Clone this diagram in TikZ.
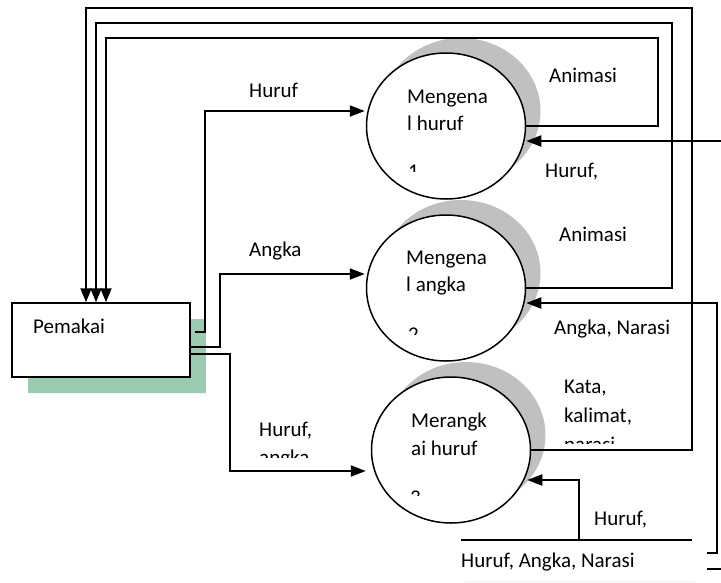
\documentclass[tikz,border=0pt]{standalone}
\usepackage{fontspec}
\setmainfont{Carlito}
\usetikzlibrary{arrows.meta,calc,shapes.geometric}
\definecolor{shadegreen}{RGB}{155,204,178}
\definecolor{shadegray}{RGB}{192,192,192}
\begin{document}
\begin{tikzpicture}[x=1pt,y=-1pt,
  flow/.style={line width=2pt},
  arr/.style={flow, -{Triangle[length=15pt,width=11pt]}},
  downarr/.style={flow, -{Triangle[length=14pt,width=11pt]}},
  lbl/.style={anchor=base west, inner sep=0pt, font=\fontsize{21}{28}\selectfont},
  proc/.style={ellipse, draw, line width=1.5pt, fill=white,
    minimum width=159pt, minimum height=146pt, inner sep=0pt},
  procshade/.style={ellipse, fill=shadegray,
    minimum width=159pt, minimum height=146pt, inner sep=0pt},
  entity/.style={rectangle, draw, line width=1.5pt, fill=white,
    minimum width=178pt, minimum height=74pt, inner sep=0pt},
  entityshade/.style={rectangle, fill=shadegreen,
    minimum width=178pt, minimum height=74pt, inner sep=0pt},
]
\useasboundingbox (0,0) rectangle (721,582);

% external entity
\node[entityshade] (pemshade) at (117,356) {};
\node[entity] (pem) at (101,340) {};
\node[lbl] (tpem) at (33,333) {Pemakai};

% processes with their shadows
\node[procshade] (c1s) at (461,111) {};
\node[proc] (c1) at (446,126) {};
\node[procshade] (c2s) at (461,273) {};
\node[proc] (c2) at (446,288) {};
\node[procshade] (c3s) at (466,435) {};
\node[proc] (c3) at (451,450) {};

\node[lbl] (t1a) at (407,103) {Mengena};
\node[lbl] (t1b) at (407,130) {l huruf};
\node[lbl] (t2a) at (406,264) {Mengena};
\node[lbl] (t2b) at (406,291) {l angka};
\node[lbl] (t3a) at (411,427) {Merangk};
\node[lbl] (t3b) at (411,455) {ai huruf};

% process numbers, cut off by the text frame
\begin{scope}
  \clip (400,150) rectangle (440,171);
  \node[lbl] (n1) at (408,178) {1};
\end{scope}
\begin{scope}
  \clip (400,310) rectangle (440,334);
  \node[lbl] (n2) at (408,341) {2};
\end{scope}
\begin{scope}
  \clip (400,475) rectangle (440,495);
  \node[lbl] (n3) at (410,504) {3};
\end{scope}

% flows from the user to the processes
\draw[arr] ($(pem.east)+(4,-8)$) -- ++(10,0) |- ($(c1.west)+(-1,-15)$);
\draw[arr] ($(pem.east)+(0,7)$) -- ++(29,0) |- ($(c2.west)+(-1,-14)$);
\draw[arr] ($(pem.east)+(0,14)$) -- ++(39,0) |- ($(c3.west)+(-5,21)$);

% flows back to the user
\draw[downarr] (c1.east) -- (658,126) |- (106,38) -- ($(pem.north)+(5,0)$);
\draw[downarr] (c2.east) -- (672,288) |- (96,23) -- ($(pem.north)+(-5,0)$);
\draw[downarr] (c3.east) -- (692,450) |- (86,8) -- ($(pem.north)+(-15,0)$);

% inputs from the right
\coordinate (inA) at (721,141);
\draw[arr] (inA) -- ($(c1.east)+(0,15)$);
\coordinate (inB) at (707,553);
\draw[arr] (inB) -- (717,553) |- ($(c2.east)+(0,15)$);
\coordinate (inC1) at (707,569);
\coordinate (inC2) at (721,569);
\draw[flow] (inC1) -- (inC2);

% data store
\coordinate (dsL) at (461,540);
\coordinate (dsR) at (692,540);
\draw[flow] (dsL) -- (dsR);
\coordinate (dsF) at (579,540);
\draw[arr] (dsF) |- ($(c3.east)+(-4,30)$);
\draw[gray!12, line width=0.8pt] (465,581) -- (695,581);

% flow labels
\node[lbl] (lHuruf) at (249,97) {Huruf};
\node[lbl] (lAngka) at (249,256) {Angka};
\begin{scope}
  \clip (250,400) rectangle (340,457);
  \node[lbl] (lHA1) at (259,436) {Huruf,};
  \node[lbl] (lHA2) at (259,464) {angka};
\end{scope}
\node[lbl] (lAn1) at (549,82) {Animasi};
\node[lbl] (lHr1) at (545,177) {Huruf,};
\node[lbl] (lAn2) at (559,241) {Animasi};
\node[lbl] (lAN) at (554,334) {Angka, Narasi};
\begin{scope}
  \clip (555,370) rectangle (680,443);
  \node[lbl] (lK1) at (564,393) {Kata,};
  \node[lbl] (lK2) at (564,422) {kalimat,};
  \node[lbl] (lK3) at (564,451) {narasi};
\end{scope}
\node[lbl] (lHr2) at (594,525) {Huruf,};
\node[lbl] (lDS) at (461,567) {Huruf, Angka, Narasi};
\end{tikzpicture}
\end{document}
